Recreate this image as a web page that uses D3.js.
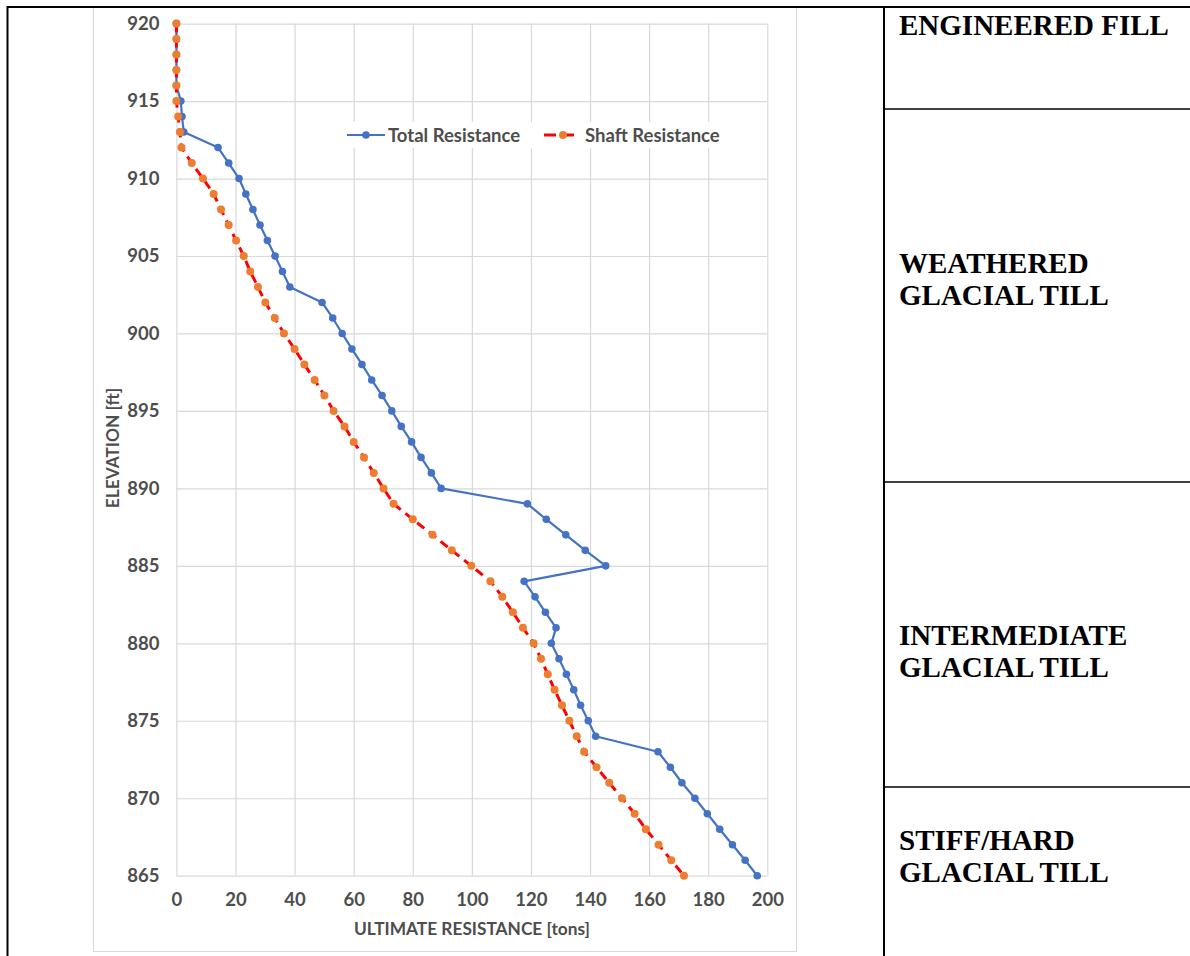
<!DOCTYPE html>
<html>
<head>
<meta charset="utf-8">
<script src="https://cdn.jsdelivr.net/npm/d3@7"></script>
<style>
  html, body { margin: 0; padding: 0; background: #fff; }
  svg { display: block; }
</style>
</head>
<body>
<svg id="chart" width="1190" height="956"></svg>
<script>
// ---- data ----
const elevations = [920,919,918,917,916,915,914,913,912,911,910,909,908,907,906,905,904,903,902,901,900,899,898,897,896,895,894,893,892,891,890,889,888,887,886,885,884,883,882,881,880,879,878,877,876,875,874,873,872,871,870,869,868,867,866,865];
const totalResistance = [0,0,0,0,0,1.5,1.9,2.5,14.1,17.7,21.2,23.5,25.9,28.3,30.8,33.4,35.9,38.4,49.3,52.9,56.1,59.4,62.8,66.1,69.6,72.9,76.1,79.6,82.8,86.3,89.6,118.8,125.2,131.8,138.4,145.3,117.7,121.4,124.9,128.5,126.9,129.5,132.0,134.5,136.8,139.4,141.9,163.0,167.2,171.1,175.5,179.7,183.9,188.2,192.5,196.6];
const shaftResistance = [0,0,0,0,0,0,0.6,1.2,1.7,5.2,9.0,12.6,15.1,17.7,20.2,22.8,25.0,27.6,30.1,33.3,36.4,40.0,43.3,46.8,50.1,53.2,56.9,60.0,63.5,66.8,70.1,73.5,80.0,86.7,93.2,99.8,106.3,110.3,113.9,117.3,120.9,123.4,125.7,128.0,130.5,133.0,135.5,138.0,142.2,146.5,150.8,155.1,158.9,163.2,167.5,171.8];
const xTicks = [0,20,40,60,80,100,120,140,160,180,200];
const yTicks = [920,915,910,905,900,895,890,885,880,875,870,865];
const seriesNames = ["Total Resistance","Shaft Resistance"];
const xTitle = "ULTIMATE RESISTANCE [tons]";
const yTitle = "ELEVATION [ft]";
const layers = [
  {lines:["ENGINEERED FILL"]},
  {lines:["WEATHERED","GLACIAL TILL"]},
  {lines:["INTERMEDIATE","GLACIAL TILL"]},
  {lines:["STIFF/HARD","GLACIAL TILL"]}
];

// ---- layout ----
const svg = d3.select("#chart");
const W = 1190, H = 956;
const plot = {left: 176.4, right: 767.3, top: 23.6, bottom: 875.7};
const x = d3.scaleLinear().domain([0,200]).range([plot.left, plot.right]);
const y = d3.scaleLinear().domain([865,920]).range([plot.bottom, plot.top]);
const labelFont = "Lato, 'Open Sans', sans-serif";
const txtColor = "#4d4d4d";
const blue = "#4472C4", orange = "#ED7D31", red = "#FF0000";

// chart area border
svg.append("rect").attr("x",93.5).attr("y",7.5).attr("width",703).attr("height",944)
  .attr("fill","#fff").attr("stroke","#d9d9d9").attr("stroke-width",1);

// gridlines
const grid = svg.append("g");
grid.append("g").attr("transform",`translate(0,${plot.bottom})`)
  .call(d3.axisBottom(x).tickValues(xTicks).tickSize(-(plot.bottom-plot.top)).tickFormat(""))
  .call(g => g.select(".domain").remove())
  .call(g => g.selectAll("line").attr("stroke","#d9d9d9").attr("stroke-width",1.2));
grid.append("g").attr("transform",`translate(${plot.left},0)`)
  .call(d3.axisLeft(y).tickValues(yTicks).tickSize(-(plot.right-plot.left)).tickFormat(""))
  .call(g => g.select(".domain").remove())
  .call(g => g.selectAll("line").attr("stroke","#d9d9d9").attr("stroke-width",1.2));

// tick labels
const xAxis = svg.append("g").attr("transform",`translate(0,${plot.bottom})`)
  .call(d3.axisBottom(x).tickValues(xTicks).tickSize(0).tickPadding(17));
xAxis.select(".domain").remove();
xAxis.selectAll("text").attr("font-family",labelFont).attr("font-weight","bold")
  .attr("font-size",18.5).attr("fill",txtColor);

const yAxis = svg.append("g").attr("transform",`translate(${plot.left},0)`)
  .call(d3.axisLeft(y).tickValues(yTicks).tickSize(0).tickPadding(17));
yAxis.select(".domain").remove();
yAxis.selectAll("text").attr("font-family",labelFont).attr("font-weight","bold")
  .attr("font-size",18.5).attr("fill",txtColor);

// axis titles
svg.append("text").attr("x",472).attr("y",935).attr("text-anchor","middle")
  .attr("font-family",labelFont).attr("font-weight","bold").attr("font-size",17.3)
  .attr("fill",txtColor).text(xTitle);
svg.append("text").attr("transform","translate(119,448) rotate(-90)").attr("text-anchor","middle")
  .attr("font-family",labelFont).attr("font-weight","bold").attr("font-size",17.3)
  .attr("fill",txtColor).text(yTitle);

// series
const totalPts = elevations.map((e,i)=>({e, v: totalResistance[i]}));
const shaftPts = elevations.map((e,i)=>({e, v: shaftResistance[i]}));
const line = d3.line().x(d=>x(d.v)).y(d=>y(d.e));

svg.append("path").datum(totalPts).attr("d",line).attr("fill","none")
  .attr("stroke",blue).attr("stroke-width",2.2).attr("stroke-linejoin","round");
svg.append("g").selectAll("circle").data(totalPts).join("circle")
  .attr("cx",d=>x(d.v)).attr("cy",d=>y(d.e)).attr("r",3.8).attr("fill",blue);

svg.append("path").datum(shaftPts).attr("d",line).attr("fill","none")
  .attr("stroke",red).attr("stroke-width",3).attr("stroke-dasharray","9,6");
svg.append("g").selectAll("circle").data(shaftPts).join("circle")
  .attr("cx",d=>x(d.v)).attr("cy",d=>y(d.e)).attr("r",4).attr("fill",orange);

// legend
const lg = svg.append("g");
lg.append("rect").attr("x",340).attr("y",122).attr("width",388).attr("height",26).attr("fill","#fff");
const ly = 135;
lg.append("line").attr("x1",347).attr("x2",385).attr("y1",ly).attr("y2",ly).attr("stroke",blue).attr("stroke-width",2.2);
lg.append("circle").attr("cx",366).attr("cy",ly).attr("r",3.8).attr("fill",blue);
lg.append("text").attr("x",388).attr("y",ly+6.5).attr("font-family",labelFont).attr("font-weight","bold")
  .attr("font-size",18.5).attr("fill",txtColor).text(seriesNames[0]);
lg.append("line").attr("x1",544).attr("x2",580).attr("y1",ly).attr("y2",ly).attr("stroke",red).attr("stroke-width",3).attr("stroke-dasharray","12,6");
lg.append("circle").attr("cx",563).attr("cy",ly).attr("r",4).attr("fill",orange);
lg.append("text").attr("x",585).attr("y",ly+6.5).attr("font-family",labelFont).attr("font-weight","bold")
  .attr("font-size",18.5).attr("fill",txtColor).text(seriesNames[1]);

// outer table lines
const tb = svg.append("g").attr("stroke","#000").attr("stroke-width",2);
tb.append("line").attr("x1",7).attr("x2",W).attr("y1",7).attr("y2",7);
tb.append("line").attr("x1",7.5).attr("x2",7.5).attr("y1",6).attr("y2",H);
tb.append("line").attr("x1",884).attr("x2",884).attr("y1",6).attr("y2",H);
[109,482,787].forEach(yy => tb.append("line").attr("x1",884).attr("x2",W).attr("y1",yy).attr("y2",yy).attr("stroke-width",1.6));

// layer labels
const baselines = [[35],[272.5,305],[645,677],[849.5,882]];
layers.forEach((L,i) => {
  L.lines.forEach((t,j) => {
    svg.append("text").attr("x",899).attr("y",baselines[i][j])
      .attr("font-family","'Liberation Serif', 'Times New Roman', serif").attr("font-weight","bold")
      .attr("font-size",29).attr("fill","#000").text(t);
  });
});
</script>
</body>
</html>
